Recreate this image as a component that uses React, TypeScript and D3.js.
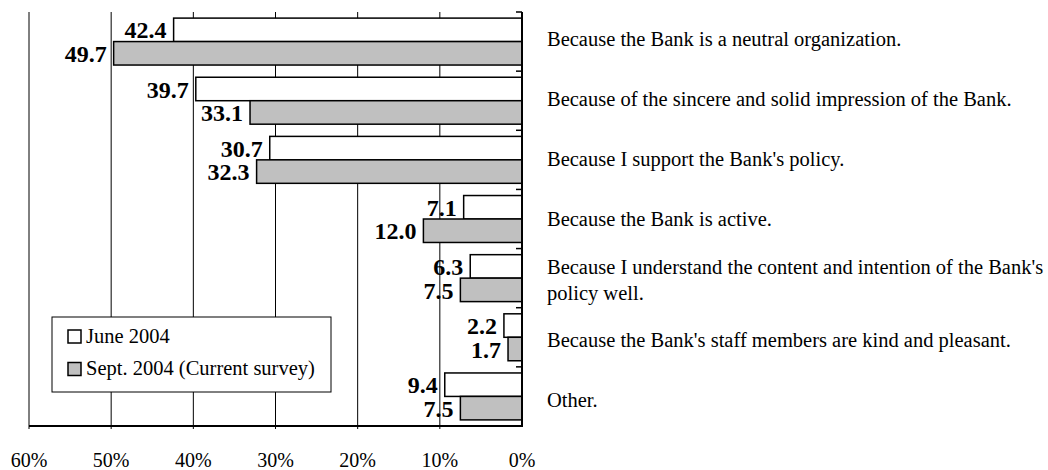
import React from "react";
import * as d3 from "d3";

const categories = [
  "Because the Bank is a neutral organization.",
  "Because of the sincere and solid impression of the Bank.",
  "Because I support the Bank's policy.",
  "Because the Bank is active.",
  "Because I understand the content and intention of the Bank's\npolicy well.",
  "Because the Bank's staff members are kind and pleasant.",
  "Other.",
];
const seriesNames = ["June 2004", "Sept. 2004 (Current survey)"];
const june2004 = [42.4, 39.7, 30.7, 7.1, 6.3, 2.2, 9.4];
const sept2004 = [49.7, 33.1, 32.3, 12.0, 7.5, 1.7, 7.5];
const xTicks = [60, 50, 40, 30, 20, 10, 0];
const fills = ["#ffffff", "#c0c0c0"];

const W = 1048;
const H = 470;
const FONT = "'Liberation Serif', 'Times New Roman', serif";

export default function App() {
  const left = 29;
  const right = 522;
  const top = 12;
  const bottom = 426;

  const x = d3.scaleLinear().domain([60, 0]).range([left, right]);
  const y = d3.scaleBand<string>().domain(categories).range([top, bottom]).padding(0);
  const sub = d3
    .scaleBand<string>()
    .domain(seriesNames)
    .range([0, y.bandwidth()])
    .paddingInner(0)
    .paddingOuter(0.26);
  const labelY = d3.scalePoint<string>().domain(categories).range([41.5, 402.3]);

  const series = [june2004, sept2004];

  const boundaries = d3.range(categories.length + 1).map((i) => top + i * y.step());

  return (
    <svg width={W} height={H} style={{ position: "absolute", left: 0, top: 0, background: "#fff" }} fontFamily={FONT}>
      {/* gridlines */}
      {xTicks.filter((t) => t !== 0).map((t) => (
        <line key={"g" + t} x1={x(t)} x2={x(t)} y1={top} y2={bottom + 3} stroke="#000" strokeWidth={1} />
      ))}
      {/* bars */}
      {categories.map((c, i) => (
        <g key={"c" + i}>
          {series.map((s, j) => {
            const by = (y(c) ?? 0) + (sub(seriesNames[j]) ?? 0);
            const v = s[i];
            return (
              <rect
                key={j}
                x={x(v)}
                y={by}
                width={x(0) - x(v)}
                height={sub.bandwidth()}
                fill={fills[j]}
                stroke="#000"
                strokeWidth={1.5}
              />
            );
          })}
        </g>
      ))}
      {/* data labels */}
      {categories.map((c, i) => (
        <g key={"l" + i}>
          {series.map((s, j) => {
            const cy = (y(c) ?? 0) + (sub(seriesNames[j]) ?? 0) + sub.bandwidth() / 2;
            const v = s[i];
            return (
              <text
                key={j}
                x={x(v) - 7}
                y={cy}
                dy="0.36em"
                textAnchor="end"
                fontWeight="bold"
                fontSize={24}
                fill="#000"
              >
                {v.toFixed(1)}
              </text>
            );
          })}
        </g>
      ))}
      {/* axes */}
      <line x1={left} x2={right + 1} y1={bottom} y2={bottom} stroke="#000" strokeWidth={2} />
      <line x1={right} x2={right} y1={top} y2={bottom} stroke="#000" strokeWidth={2} />
      {boundaries.map((b, i) => (
        <line key={"t" + i} x1={right - 6} x2={right} y1={b} y2={b} stroke="#000" strokeWidth={1.5} />
      ))}
      {/* x tick labels */}
      {xTicks.map((t) => (
        <text key={"xt" + t} x={x(t)} y={466.5} textAnchor="middle" fontSize={20} fill="#000">
          {t + "%"}
        </text>
      ))}
      {/* category labels */}
      {categories.map((c, i) => {
        const lines = c.split("\n");
        const lh = 26;
        const cy = labelY(c) ?? 0;
        return (
          <text key={"cl" + i} x={547} fontSize={20.5} fill="#000">
            {lines.map((ln, k) => (
              <tspan key={k} x={547} y={cy + 4.5 + (k - (lines.length - 1) / 2) * lh}>
                {ln}
              </tspan>
            ))}
          </text>
        );
      })}
      {/* legend */}
      <g>
        <rect x={52} y={317} width={279} height={75} fill="#fff" stroke="#000" strokeWidth={1} />
        {seriesNames.map((n, j) => (
          <g key={"lg" + j}>
            <rect x={68} y={330 + j * 32.5} width={13} height={13} fill={fills[j]} stroke="#000" strokeWidth={1.5} />
            <text x={86} y={342.5 + j * 32.5} fontSize={20.5} fill="#000">
              {n}
            </text>
          </g>
        ))}
      </g>
    </svg>
  );
}
